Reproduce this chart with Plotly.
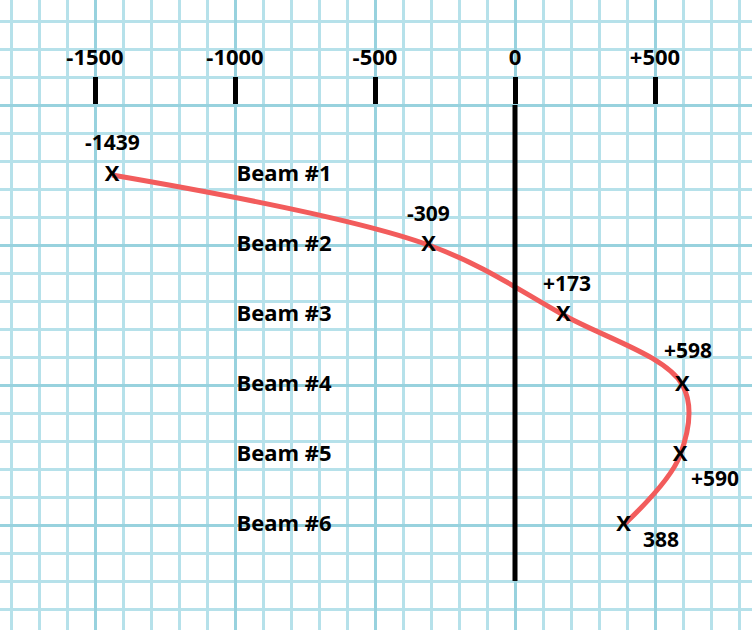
import plotly.graph_objects as go

# ---- data ----
beams = [1, 2, 3, 4, 5, 6]
beam_labels = ["Beam #1", "Beam #2", "Beam #3", "Beam #4", "Beam #5", "Beam #6"]
values = [-1439, -309, 173, 598, 590, 388]
value_labels = ["-1439", "-309", "+173", "+598", "+590", "388"]
tick_vals = [-1500, -1000, -500, 0, 500]
tick_text = ["-1500", "-1000", "-500", "0", "+500"]

FONT = "Open Sans"
RED = "#f25c5c"
MINOR = "#b6e1ea"
MAJOR = "#98d2de"

fig = go.Figure()

# red smooth curve
fig.add_trace(go.Scatter(
    x=values, y=beams, mode="lines",
    line=dict(color=RED, width=5, shape="spline", smoothing=1.0),
    hoverinfo="skip", showlegend=False))

# X markers
fig.add_trace(go.Scatter(
    x=values, y=beams, mode="text", text=["X"] * len(values),
    textfont=dict(family=FONT, size=22, color="black", weight="bold"),
    textposition="middle center", showlegend=False, hoverinfo="skip"))

# beam labels
label_x = [-825] * len(beams)
fig.add_trace(go.Scatter(
    x=label_x, y=beams, mode="text", text=beam_labels,
    textfont=dict(family=FONT, size=22, color="black", weight="bold"),
    textposition="middle center", showlegend=False, hoverinfo="skip"))

# value labels (offsets in pixels)
offsets = [(0, 33), (0, 32), (4, 32), (6, 35), (35, -23), (37, -14)]
for v, b, t, (dx, dy) in zip(values, beams, value_labels, offsets):
    fig.add_annotation(x=v, y=b, text=t, showarrow=False, xshift=dx, yshift=dy,
                       font=dict(family=FONT, size=21, color="black", weight="bold"))

# black zero axis line
fig.add_shape(type="line", x0=0, x1=0, y0=0, y1=6.8, xref="x", yref="y",
              line=dict(color="black", width=5), layer="above")

fig.update_layout(
    width=752, height=630,
    margin=dict(l=0, r=0, t=0, b=0),
    paper_bgcolor="white", plot_bgcolor="white",
    showlegend=False,
    xaxis=dict(
        range=[-515 / 0.28, 237 / 0.28],
        side="top", anchor="free", position=1 - 104 / 630,
        tickmode="array", tickvals=tick_vals, ticktext=tick_text,
        ticks="outside", ticklen=27, tickwidth=5, tickcolor="black",
        ticklabelstandoff=3,
        tickfont=dict(family=FONT, size=22, color="black", weight="bold"),
        showline=False, zeroline=False,
        showgrid=True, gridcolor=MAJOR, gridwidth=3,
        minor=dict(tick0=0, dtick=100, showgrid=True, gridcolor=MINOR, gridwidth=2.5),
    ),
    yaxis=dict(
        range=[1 + (630 - 175) / 70, 1 - 175 / 70],
        showticklabels=False, ticks="", zeroline=False, showline=False,
        tick0=0, dtick=2,
        showgrid=True, gridcolor=MAJOR, gridwidth=3,
        minor=dict(tick0=0, dtick=0.4, showgrid=True, gridcolor=MINOR, gridwidth=2.5),
    ),
)

fig.write_html("out.html", config={"displayModeBar": False},
               post_script="document.body.style.margin='0';")
